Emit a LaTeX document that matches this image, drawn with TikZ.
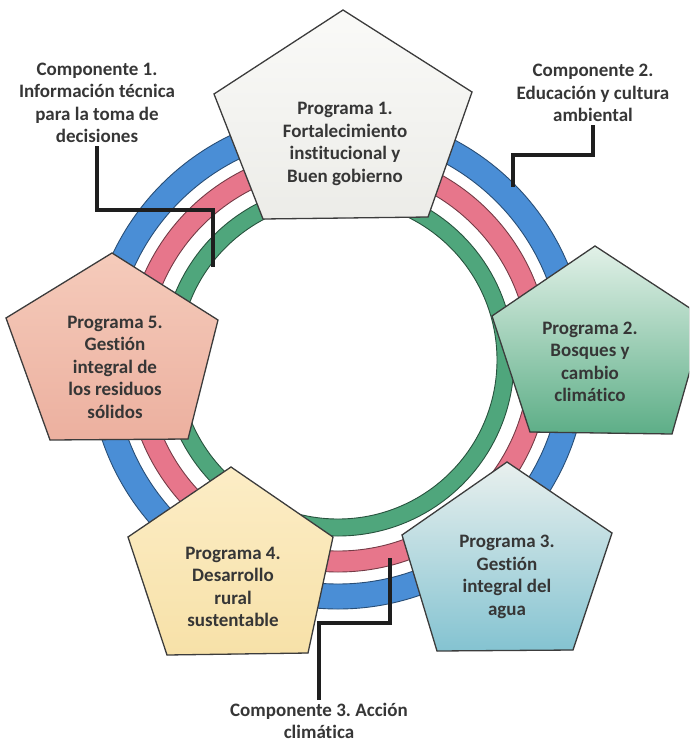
\documentclass[tikz,border=0pt]{standalone}
\usepackage{fontspec}
\setmainfont{Carlito}[Ligatures={NoCommon}]
\definecolor{textgray}{HTML}{363636}
\definecolor{pentline}{HTML}{3C3C3C}
\definecolor{connblack}{HTML}{1E1E1E}
\definecolor{ringblue}{HTML}{4A8ED6}
\definecolor{ringpink}{HTML}{E7768B}
\definecolor{ringgreen}{HTML}{4FA67C}
\definecolor{pOneTop}{HTML}{FAFAF8}
\definecolor{pOneBot}{HTML}{ECECE8}
\definecolor{pTwoTop}{HTML}{E2F1E8}
\definecolor{pTwoBot}{HTML}{5DAE87}
\definecolor{pThreeTop}{HTML}{E9F0EE}
\definecolor{pThreeBot}{HTML}{84C3D1}
\definecolor{pFourTop}{HTML}{FCEDC6}
\definecolor{pFourBot}{HTML}{F7E1A8}
\definecolor{pFiveTop}{HTML}{F5CBBB}
\definecolor{pFiveBot}{HTML}{ECB09F}
\frenchspacing
\begin{document}
\begin{tikzpicture}[x=1pt,y=-1pt,
  txt/.style={font=\bfseries\fontsize{19}{22.5}\selectfont, text=textgray, align=center, inner sep=3pt},
  pent/.style={draw=pentline, line width=1.3pt, line join=miter},
  conn/.style={draw=connblack, line width=3.2pt, line join=miter},
  bandline/.style={line width=0.9pt}
]
\useasboundingbox (0,0) rectangle (689,744);
\begin{scope}
\clip (0,0) rectangle (689,744);
\coordinate (O) at (338,360);
% rings
\fill[ringblue, even odd rule] (O) circle[radius=249pt] (O) circle[radius=224pt];
\draw[ringblue!55!black, bandline] (O) circle[radius=249pt] (O) circle[radius=224pt];
\fill[ringpink, even odd rule] (O) circle[radius=212pt] (O) circle[radius=191pt];
\draw[ringpink!50!black, bandline] (O) circle[radius=212pt] (O) circle[radius=191pt];
\fill[ringgreen, even odd rule] (O) circle[radius=176pt] (O) circle[radius=159pt];
\draw[ringgreen!50!black, bandline] (O) circle[radius=176pt] (O) circle[radius=159pt];
% pentagons
\filldraw[pent, top color=pOneTop, bottom color=pOneBot] (343,10) -- (472,92) -- (428,217) -- (263,219) -- (214,94) -- cycle;
\filldraw[pent, top color=pTwoTop, bottom color=pTwoBot] (595,246) -- (705,318) -- (672,434) -- (530,432) -- (492,316) -- cycle;
\filldraw[pent, top color=pThreeTop, bottom color=pThreeBot] (507,462) -- (612,533) -- (573,650) -- (437,651) -- (402,535) -- cycle;
\filldraw[pent, top color=pFourTop, bottom color=pFourBot] (231,467) -- (333,537) -- (308,653) -- (167,655) -- (128,537) -- cycle;
\filldraw[pent, top color=pFiveTop, bottom color=pFiveBot] (112,253) -- (218,320) -- (188,439) -- (50,440) -- (6,318) -- cycle;
\end{scope}
% texts
\node[txt] (p1) at (345,144) {Programa 1.\\Fortalecimiento\\institucional y\\Buen gobierno};
\node[txt] (p2) at (590,362) {Programa 2.\\Bosques y\\cambio\\climático};
\node[txt] (p3) at (507,577) {Programa 3.\\Gestión\\integral del\\agua};
\node[txt] (p4) at (233,587) {Programa 4.\\Desarrollo\\rural\\sustentable};
\node[txt] (p5) at (115,367) {Programa 5.\\Gestión\\integral de\\los residuos\\sólidos};
\node[txt] (c1) at (97,103) {Componente 1.\\Información técnica\\para la toma de\\decisiones};
\node[txt] (c2) at (593,93) {Componente 2.\\Educación y cultura\\ambiental};
\node[txt] (c3) at (319,721) {Componente 3. Acción\\climática};
% connectors
\coordinate (m1) at (213,210);
\coordinate (e1) at (213,267);
\coordinate (m2) at (513,155);
\coordinate (e2) at (513,187);
\coordinate (m3) at (390,623);
\coordinate (e3) at (390,558);
\draw[conn] (c1.south) |- (m1) -- (e1);
\draw[conn] (c2.south) |- (m2) -- (e2);
\draw[conn] (c3.north) |- (m3) -- (e3);
\end{tikzpicture}
\end{document}
